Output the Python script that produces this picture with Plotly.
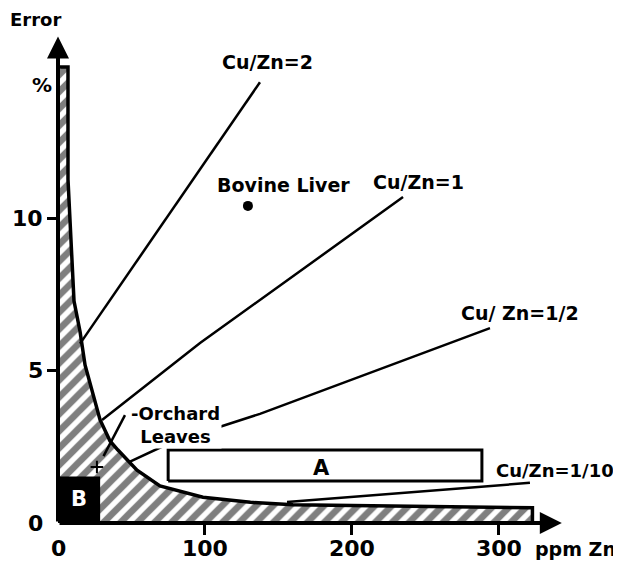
import plotly.graph_objects as go

# ---------------- data ----------------
# upper boundary of the hatched error region (ppm Zn, % error)
curve_x = [6.8, 6.8, 10.9, 15.0, 18.4, 23.1, 28.6, 35.4, 40.8, 53.8, 69.4, 98.7, 131, 160, 220, 323]
curve_y = [15.0, 11.3, 7.3, 6.3, 5.2, 4.4, 3.4, 2.7, 2.4, 1.74, 1.22, 0.85, 0.68, 0.6, 0.55, 0.5]

# Cu/Zn ratio lines
cu2_x = [15.0, 137.5]
cu2_y = [5.9, 14.5]
cu1_x = [30.0, 96.7, 234.9]
cu1_y = [3.39, 5.92, 10.72]
cuhalf_x = [48.3, 76.2, 137.5, 294.1]
cuhalf_y = [2.0, 2.63, 3.59, 6.41]
cutenth_x = [155.9, 321.3]
cutenth_y = [0.69, 1.32]

# boxes
box_a_x = [75.0, 288.6]
box_a_y = [1.38, 2.40]
box_b_x = [0.0, 28.0]
box_b_y = [0.0, 1.5]

# reference materials
bovine_x = [129.3]
bovine_y = [10.43]
orchard_x = [26.5]
orchard_y = [1.84]
orchard_ptr_x = [45.6, 31.0]
orchard_ptr_y = [3.55, 2.2]

# axes
x_tick_vals = [0, 100, 200, 300]
x_tick_text = ["0", "100", "200", "300"]
y_tick_vals = [0, 5, 10]
y_tick_text = ["0", "5", "10"]
x_axis_end = 343
y_axis_end = 16.0
X_RANGE = [0, 369]
Y_RANGE = [0, 16.94]

FONT = "DejaVu Sans"

fig = go.Figure()

# hatched region
poly_x = [0, curve_x[-1], curve_x[-1]] + curve_x[::-1][1:] + [0, 0]
poly_y = [0, 0, curve_y[-1]] + curve_y[::-1][1:] + [curve_y[0], 0]
fig.add_trace(go.Scatter(
    x=poly_x, y=poly_y, mode="lines", fill="toself",
    fillcolor="white",
    fillpattern=dict(shape="/", fgcolor="black", bgcolor="white", size=12, solidity=0.55),
    line=dict(color="black", width=3.5), cliponaxis=False, hoverinfo="skip"))

# box B (black)
fig.add_trace(go.Scatter(
    x=[box_b_x[0], box_b_x[1], box_b_x[1], box_b_x[0], box_b_x[0]],
    y=[box_b_y[0], box_b_y[0], box_b_y[1], box_b_y[1], box_b_y[0]],
    mode="lines", fill="toself", fillcolor="black",
    line=dict(color="black", width=2), cliponaxis=False, hoverinfo="skip"))

# box A (white, outlined)
fig.add_trace(go.Scatter(
    x=[box_a_x[0], box_a_x[1], box_a_x[1], box_a_x[0], box_a_x[0]],
    y=[box_a_y[0], box_a_y[0], box_a_y[1], box_a_y[1], box_a_y[0]],
    mode="lines", fill="toself", fillcolor="white",
    line=dict(color="black", width=3), hoverinfo="skip"))

# Cu/Zn lines
for lx, ly in [(cu2_x, cu2_y), (cu1_x, cu1_y), (cuhalf_x, cuhalf_y), (cutenth_x, cutenth_y),
               (orchard_ptr_x, orchard_ptr_y)]:
    fig.add_trace(go.Scatter(x=lx, y=ly, mode="lines",
                             line=dict(color="black", width=2.5), hoverinfo="skip"))

# points
fig.add_trace(go.Scatter(x=bovine_x, y=bovine_y, mode="markers",
                         marker=dict(color="black", size=10), hoverinfo="skip"))
fig.add_trace(go.Scatter(x=orchard_x, y=orchard_y, mode="markers",
                         marker=dict(color="black", size=9, symbol="cross-thin",
                                     line=dict(color="black", width=2)), hoverinfo="skip"))


def note(text, x, y, size=19, xanchor="left", bg=None, color="black", ref="data"):
    f = dict(family=FONT, weight="bold", size=size, color=color)
    if ref == "data":
        xr, yr = "x", "y"
    else:
        xr, yr = "paper", "paper"
        x = (x - X_RANGE[0]) / (X_RANGE[1] - X_RANGE[0])
        y = (y - Y_RANGE[0]) / (Y_RANGE[1] - Y_RANGE[0])
    kw = dict(x=x, y=y, xref=xr, yref=yr, text=text, showarrow=False,
              font=f, xanchor=xanchor, yanchor="middle")
    if bg:
        kw["bgcolor"] = bg
    fig.add_annotation(**kw)


note("Cu/Zn=2", 110.0, 15.16)
note("Cu/Zn=1", 213.0, 11.22)
note("Cu/ Zn=1/2", 273.0, 6.91)
note("Cu/Zn=1/10", 296.5, 1.74, size=18, ref="paper")
note("Bovine Liver", 107.0, 11.12)
note("-Orchard<br>Leaves", 80.3, 3.22, size=18, xanchor="center", bg="white")
note("A", 179.7, 1.81, size=21, xanchor="center")
note("B", 14.0, 0.8, size=21, xanchor="center", color="white")
note("Error", -15.0, 16.55, size=18, xanchor="center", ref="paper")
note("%", -11.0, 14.4, size=20, xanchor="center", ref="paper")
note("ppm Zn", 352.0, -0.85, size=19, xanchor="center", ref="paper")

# tick labels (placed as text at the tick positions)
for v, t in zip(x_tick_vals, x_tick_text):
    note(t, v, -0.85, size=22, xanchor="center", ref="paper")
for v, t in zip(y_tick_vals, y_tick_text):
    fig.add_annotation(x=0, y=(v - Y_RANGE[0]) / (Y_RANGE[1] - Y_RANGE[0]), xref="paper", yref="paper",
                       text=t, showarrow=False, xanchor="right", yanchor="middle", xshift=-13,
                       font=dict(family=FONT, weight="bold", size=22, color="black"))

# axes with arrows
fig.add_annotation(x=0, y=y_axis_end, ax=0, ay=0, xref="x", yref="y", axref="x", ayref="y",
                   showarrow=True, arrowhead=2, arrowsize=1.1, arrowwidth=4, arrowcolor="black", text="")
fig.add_annotation(x=x_axis_end, y=0, ax=0, ay=0, xref="x", yref="y", axref="x", ayref="y",
                   showarrow=True, arrowhead=2, arrowsize=1.1, arrowwidth=4, arrowcolor="black", text="")

# the page body adds an 8 px offset, so the figure is sized to fill the rest of the window
fig.update_layout(
    width=613, height=555,
    margin=dict(l=50, r=21, t=0, b=40),
    paper_bgcolor="white", plot_bgcolor="white",
    showlegend=False,
    xaxis=dict(range=X_RANGE, showgrid=False, zeroline=False, showline=False,
               tickvals=x_tick_vals[1:], ticks="outside", showticklabels=False,
               ticklen=11, tickwidth=3, tickcolor="black"),
    yaxis=dict(range=Y_RANGE, showgrid=False, zeroline=False, showline=False,
               tickvals=y_tick_vals[1:], ticks="outside", showticklabels=False,
               ticklen=10, tickwidth=3, tickcolor="black"),
)

fig.write_html("out.html")
